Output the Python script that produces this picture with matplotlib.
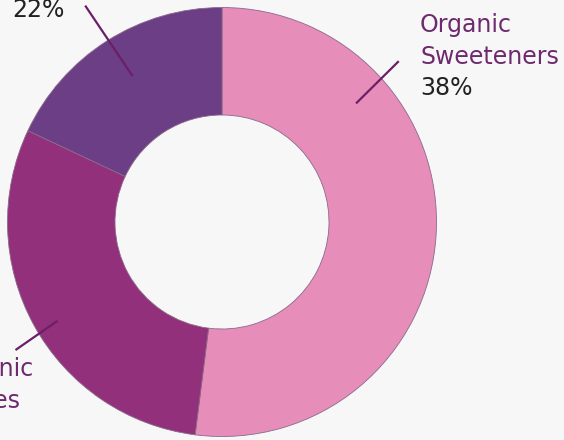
import numpy as np
import matplotlib as mpl
mpl.use("agg")
import matplotlib.pyplot as plt

# slice sizes as drawn (the printed labels say otherwise, kept as in the picture)
shares=[52,30,18]
colors=["#E68DB9","#93307B","#6C3E86"]
names=["Organic\nSweeteners","Non-Organic\nSubstitutes",""]
pcts=["38%","40%","22%"]

W,H=564,440
cx,cy=222,218
R=214.5
hole=107

fig=plt.figure(figsize=(W/100,H/100),dpi=100)
fig.patch.set_facecolor("#F7F7F7")
ax=fig.add_axes([0,0,1,1])
ax.pie(shares,colors=colors,startangle=90,counterclock=False,center=(cx,cy),
       radius=R,wedgeprops=dict(width=R-hole,linewidth=0.6,edgecolor="#8a6a8a"))
ax.set_xlim(0,W)
ax.set_ylim(0,H)
ax.set_aspect("equal")
ax.axis("off")

def polar(ang,r):
    a=np.radians(ang)
    return cx+r*np.cos(a),cy+r*np.sin(a)

# leader lines: (angle, inner r, outer r)
leaders=[(41.5,179,239),(211,192,243),(121.5,171,256)]
for ang,r0,r1 in leaders:
    x0,y0=polar(ang,r0)
    x1,y1=polar(ang+0.8,r1)
    ax.plot([x0,x1],[y0,y1],color="#6A1F66",lw=1.6,solid_capstyle="butt")

fs=17
lab_col="#6E2A6F"
txt_col="#222222"
step=31.5
# label blocks: left x, baseline of the percentage line
label_pos=[(420,H-95),(-114,H-439),(12,H-17)]
for (x,y),nm,p in zip(label_pos,names,pcts):
    lines=nm.split("\n") if nm else []
    n=len(lines)
    for i,ln in enumerate(lines):
        ax.text(x,y+(n-i)*step,ln,fontsize=fs,color=lab_col,ha="left",va="baseline")
    ax.text(x,y,p,fontsize=fs,color=txt_col,ha="left",va="baseline")

fig.savefig("out.png",dpi=100,facecolor=fig.get_facecolor())
